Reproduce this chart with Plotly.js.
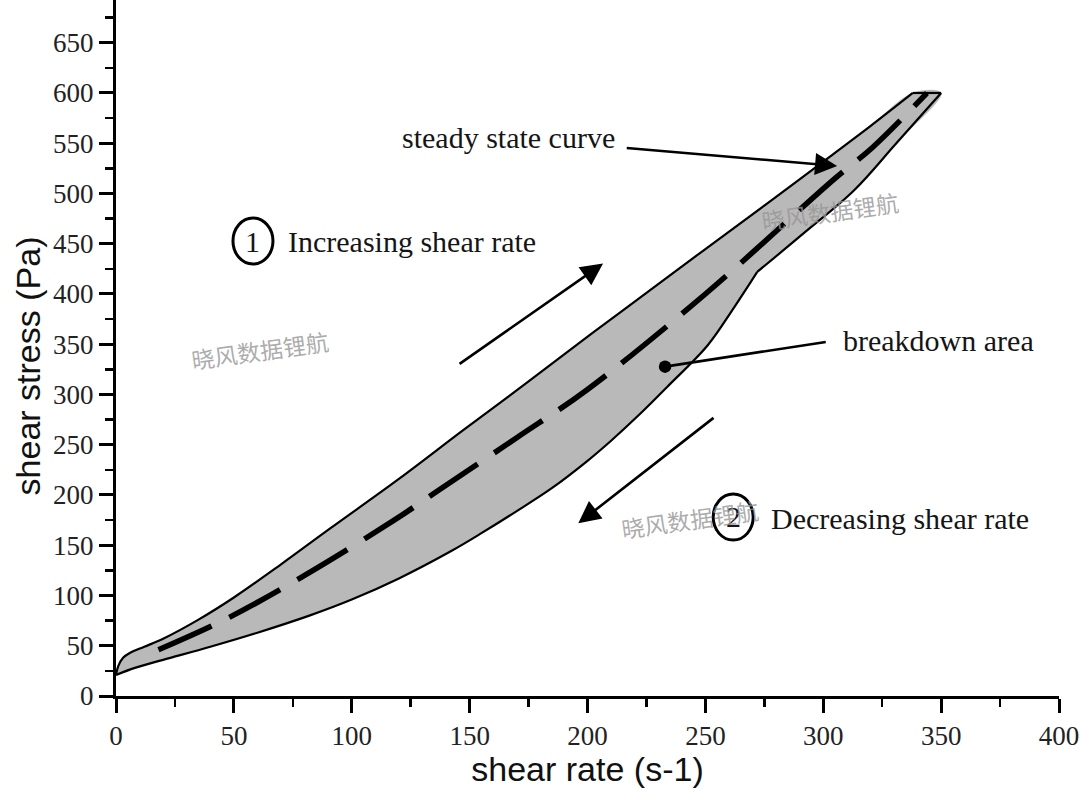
<!DOCTYPE html>
<html>
<head>
<meta charset="utf-8">
<script src="https://cdn.plot.ly/plotly-3.0.1.min.js"></script>
<style>body{margin:0;background:#fff}</style>
</head>
<body>
<div id="chart" style="width:1080px;height:788px"></div>
<script>
// upward branch (increasing shear rate)
var upX = [0, 1, 3, 6, 12, 20, 35, 50, 70, 91, 120, 147, 175, 202, 225, 249, 275, 303, 320, 338];
var upY = [21, 30, 38, 43, 49, 57, 76, 98, 131, 167, 216, 264, 313, 361, 401, 443, 488, 537, 567, 600];

// downward branch (decreasing shear rate), kink near 272
var downX = [0, 8, 20, 40, 60, 82, 100, 120, 142, 155, 170, 185, 200, 210, 222, 234, 251, 262, 272, 292, 313, 331, 350];
var downY = [21, 28, 36, 49, 63, 80, 96, 117, 144, 162, 184, 207, 234, 254, 280, 308, 349, 386, 422, 461, 503, 550, 600];
var kinkX = 272;

// steady state curve (dashed)
var steadyX = [18, 47, 80, 118, 137, 170, 200, 250, 305, 321, 344];
var steadyY = [46, 77, 120, 175, 205, 257, 305, 400, 515, 546, 600];

var xTicks = [0, 50, 100, 150, 200, 250, 300, 350, 400];
var yTicks = [0, 50, 100, 150, 200, 250, 300, 350, 400, 450, 500, 550, 600, 650];

// loop: up the top branch, back down the bottom one
var loopX = upX.concat(downX.slice().reverse());
var loopY = upY.concat(downY.slice().reverse());

var k = downX.indexOf(kinkX);
var lowAX = downX.slice(0, k + 1), lowAY = downY.slice(0, k + 1);
var lowBX = downX.slice(k), lowBY = downY.slice(k);
var n = upX.length - 1, m = downX.length - 1;

var serif = 'Liberation Serif, Times New Roman, serif';
var sans = 'Liberation Sans, Arial, sans-serif';

function outline(xs, ys, shape) {
    return {x: xs, y: ys, mode: 'lines', line: {color: '#000', width: 2.2, shape: shape, smoothing: 1},
        hoverinfo: 'skip', showlegend: false};
}

var area = {
    x: loopX, y: loopY,
    mode: 'lines', fill: 'toself', fillcolor: '#b9b9b9',
    line: {color: '#b9b9b9', width: 0.5, shape: 'spline'},
    hoverinfo: 'skip', showlegend: false
};

var steady = {
    x: steadyX, y: steadyY,
    mode: 'lines',
    line: {color: '#000', width: 5.5, dash: '58px,20px', shape: 'spline'},
    hoverinfo: 'skip', showlegend: false
};

var traces = [
    area,
    outline(upX, upY, 'spline'),
    outline(lowAX, lowAY, 'spline'),
    outline(lowBX, lowBY, 'spline'),
    outline([upX[n], downX[m]], [upY[n], downY[m]], 'linear'),
    steady
];

function label(txt, x, y, anchor) {
    return {text: txt, x: x, y: y, xref: 'x', yref: 'y', showarrow: false,
        xanchor: anchor || 'left', yanchor: 'middle',
        font: {family: serif, size: 30, color: '#151515'}};
}

function arrow(x0, y0, x1, y1, head) {
    return {x: x1, y: y1, ax: x0, ay: y0, xref: 'x', yref: 'y', axref: 'x', ayref: 'y',
        text: '', showarrow: true, arrowhead: head, arrowsize: head == 6 ? 1.2 : 1.7,
        arrowwidth: 2.6, arrowcolor: '#000', standoff: 0, startstandoff: 0};
}

function mark(txt, x, y) {
    return {text: txt, x: x, y: y, xref: 'x', yref: 'y', showarrow: false,
        textangle: -8, font: {family: 'Noto Sans CJK SC', size: 23, color: 'rgba(150,150,150,0.8)'}};
}

var annotations = [
    label('steady state curve', 166.3, 556, 'center'),
    label('Increasing shear rate', 72.1, 452.7),
    label('breakdown area', 307.6, 354.2),
    label('Decreasing shear rate', 277, 177.1),
    label('1', 58.1, 452.7, 'center'),
    label('2', 261.8, 179, 'center'),
    arrow(216, 545.3, 305.9, 527.4, 2),
    arrow(145.1, 329.4, 206.6, 430.3, 2),
    arrow(254.1, 277.9, 196.1, 171.8, 2),
    arrow(301.7, 352.5, 232.9, 327.7, 6),
    mark('晓风数据锂航', 61, 344),
    mark('晓风数据锂航', 303, 483),
    mark('晓风数据锂航', 243.5, 176),
    // y axis title placed by hand to sit where the original has it
    {text: 'shear stress (Pa)', xref: 'paper', yref: 'paper', x: -0.093, y: 0.474,
        showarrow: false, textangle: -90, xanchor: 'center', yanchor: 'middle',
        font: {family: sans, size: 34, color: '#111'}}
];

function ring(x, y) {
    return {type: 'circle', xref: 'x', yref: 'y', xsizemode: 'pixel', ysizemode: 'pixel',
        xanchor: x, yanchor: y, x0: -20, x1: 20, y0: -23, y1: 23,
        line: {color: '#000', width: 3}};
}

var axisCommon = {
    showgrid: false, zeroline: false,
    showline: true, linecolor: '#000', linewidth: 3,
    ticks: 'outside', ticklen: 14, tickwidth: 3, tickcolor: '#000',
    tickmode: 'array',
    tickfont: {family: serif, size: 27, color: '#222'},
    minor: {tickmode: 'linear', tick0: 0, dtick: 25, ticks: 'outside', ticklen: 8, tickwidth: 2.5, tickcolor: '#000'}
};

var layout = {
    width: 1080, height: 788,
    margin: {l: 116, r: 21, t: 0, b: 92},
    paper_bgcolor: '#fff', plot_bgcolor: '#fff',
    xaxis: Object.assign({}, axisCommon, {
        range: [0, 400], tickvals: xTicks,
        title: {text: 'shear rate (s-1)', font: {family: sans, size: 34, color: '#111'}, standoff: 4}
    }),
    yaxis: Object.assign({}, axisCommon, {
        range: [0, 692.5], tickvals: yTicks
    }),
    shapes: [ring(58.1, 452.7), ring(261.8, 178)],
    annotations: annotations
};

Plotly.newPlot('chart', traces, layout, {displayModeBar: false, staticPlot: true});
</script>
</body>
</html>
